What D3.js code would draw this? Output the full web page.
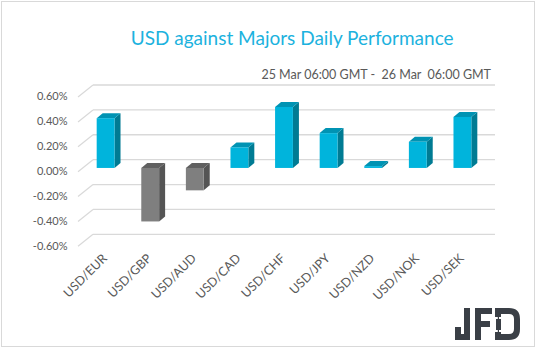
<!DOCTYPE html>
<html><head><meta charset="utf-8">
<script src="https://cdn.jsdelivr.net/npm/d3@7"></script>
<style>body{margin:0;background:#fff}svg{display:block}text{font-family:Lato,"Open Sans",sans-serif}</style>
</head><body>
<svg id="c" width="538" height="351"></svg>
<script>
const categories = ["USD/EUR","USD/GBP","USD/AUD","USD/CAD","USD/CHF","USD/JPY","USD/NZD","USD/NOK","USD/SEK"];
const values = [0.40,-0.43,-0.18,0.165,0.49,0.28,0.015,0.21,0.41];
const tickValues = [-0.6,-0.4,-0.2,0,0.2,0.4,0.6];
const tickLabels = ["-0.60%","-0.40%","-0.20%","0.00%","0.20%","0.40%","0.60%"];
const title = "USD against Majors Daily Performance";
const subtitle = "25 Mar 06:00 GMT -  26 Mar  06:00 GMT";

const svg = d3.select("#c");
svg.append("rect").attr("x",1.5).attr("y",1.5).attr("width",533).attr("height",345)
  .attr("fill","#fff").attr("stroke","#d9d9d9").attr("stroke-width",1);

const y = d3.scaleLinear().domain([-0.6,0.6]).range([234.3,85]);
const x = d3.scaleBand().domain(categories).range([61,507]).paddingInner(0.6).paddingOuter(0.8);

const gx0 = 93, gx1 = 495, fdx = 15, fdy = 12;
const grid = svg.append("g");
tickValues.forEach((v,i)=>{
  grid.append("line").attr("x1",gx0).attr("x2",gx1).attr("y1",y(v)).attr("y2",y(v))
    .attr("stroke","#d9d9d9").attr("stroke-width",1.3);
  grid.append("line").attr("x1",gx0-fdx).attr("x2",gx0).attr("y1",y(v)+fdy).attr("y2",y(v))
    .attr("stroke","#d9d9d9").attr("stroke-width",1.3);
  grid.append("text").attr("x",67.5).attr("y",y(v)+11.5).attr("dy","0.35em")
    .attr("text-anchor","end").attr("font-size",11).attr("fill","#595959").text(tickLabels[i]);
});

// bars (3D)
const off = 8.3, dx = 6, dy = -5;
const yf = v => y(v)+off;
const colors = {pos:{front:"#00b4dc",side:"#007b93",top:"#0093b3"}, neg:{front:"#7f7f7f",side:"#555555",top:"#606060"}};
const bars = svg.append("g");
categories.forEach((c,i)=>{
  const v = values[i];
  const col = v>=0 ? colors.pos : colors.neg;
  const x0 = x(c), w = x.bandwidth();
  const yt = yf(Math.max(v,0)), yb = yf(Math.min(v,0));
  bars.append("path").attr("d",`M${x0+w},${yt}L${x0+w+dx},${yt+dy}L${x0+w+dx},${yb+dy}L${x0+w},${yb}Z`).attr("fill",col.side);
  bars.append("path").attr("d",`M${x0},${yt}L${x0+dx},${yt+dy}L${x0+w+dx},${yt+dy}L${x0+w},${yt}Z`).attr("fill",col.top);
  bars.append("rect").attr("x",x0).attr("y",yt).attr("width",w).attr("height",Math.max(yb-yt,0.8)).attr("fill",col.front);
});

// category labels
categories.forEach(c=>{
  const cx = x(c)+x.bandwidth()/2;
  svg.append("text").attr("transform",`translate(${cx-1},256) rotate(-45)`)
    .attr("text-anchor","end").attr("dy","0.35em").attr("font-size",12.5).attr("fill","#595959").text(c);
});

// titles
svg.append("text").attr("x",130.7).attr("y",44.7).attr("font-size",19).attr("fill","#1cb2de").text(title);
svg.append("text").attr("x",491).attr("y",79).attr("text-anchor","end").attr("font-size",12.5)
  .attr("fill","#595959").style("white-space","pre").text(subtitle);

// JFD logo
const lg = svg.append("g").attr("fill","none").attr("stroke","#3a3f46").attr("stroke-width",6);
lg.append("path").attr("d","M458,327 V337 H467 V308");
lg.append("path").attr("d","M478,308 V340 M475,311 H492 M478,324 H490");
lg.append("path").attr("d","M495,311 H509 Q517,311 517,319 V329 Q517,337 509,337 H495");
lg.append("path").attr("d","M498,308 V317 M498,332 V340");
const lf = svg.append("g").attr("fill","#3a3f46");
lf.append("rect").attr("x",497.8).attr("y",315).attr("width",1.2).attr("height",19);
lf.append("rect").attr("x",496).attr("y",319).attr("width",5).attr("height",11);
</script>
</body></html>
